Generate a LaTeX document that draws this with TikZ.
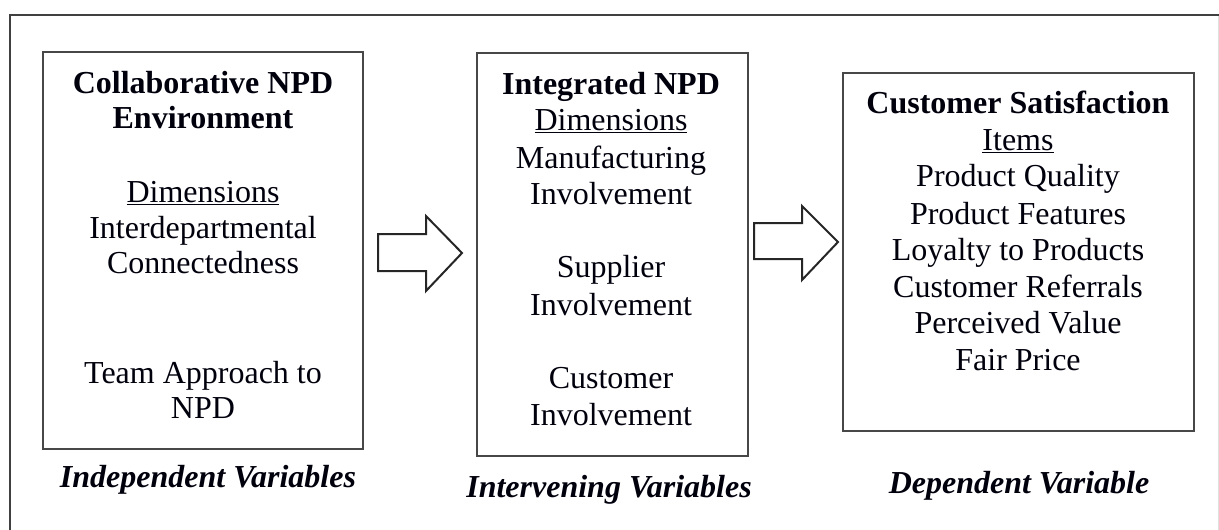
\documentclass[tikz,border=0pt]{standalone}
\usepackage{fontspec}
\setmainfont{Liberation Serif}
\begin{document}
\begin{tikzpicture}[x=1pt,y=-1pt,
  box/.style={draw=black!72, line width=1.8pt, inner sep=0pt},
  txt/.style={anchor=base, inner sep=0pt, text=black!95!blue, font=\fontsize{32}{36}\selectfont},
  bld/.style={txt, font=\fontsize{32}{36}\selectfont\bfseries},
  cpt/.style={txt, font=\fontsize{32}{36}\selectfont\bfseries\itshape},
  blockarrow/.style={draw=black!85, line width=2pt, line join=miter, fill=white}]
\useasboundingbox (0,0) rectangle (1219,530);
% outer frame
\draw[line width=2pt, black!75] (10,530) -- (10,15) -- (1219,15);
\draw[line width=1pt, black!12] (1218,16) -- (1218,530);
% boxes
\node[box, minimum width=320pt, minimum height=397pt] (b1) at (203,250.5) {};
\node[box, minimum width=271pt, minimum height=403pt] (b2) at (612.5,254.5) {};
\node[box, minimum width=351pt, minimum height=358pt] (b3) at (1018.5,252) {};
% block arrows
\draw[blockarrow] (378,234) -- (426,234) -- (426,216) -- (462,253) -- (426,291) -- (426,271) -- (378,271) -- cycle;
\draw[blockarrow] (754,223) -- (802,223) -- (802,206) -- (838,242) -- (802,280) -- (802,259) -- (754,259) -- cycle;
% box 1 text
\node[bld] (t11) at (203,93) {Collaborative NPD};
\node[bld] (t12) at (203,128) {Environment};
\node[txt] (t13) at (203,202) {\underline{Dimensions}};
\node[txt] (t14) at (203,238) {Interdepartmental};
\node[txt] (t15) at (203,273) {Connectedness};
\node[txt] (t16) at (203,383) {Team Approach to};
\node[txt] (t17) at (203,418) {NPD};
\node[cpt] (c1) at (208,487) {Independent Variables};
% box 2 text
\node[bld] (t21) at (611,94) {Integrated NPD};
\node[txt] (t22) at (611,130) {\underline{Dimensions}};
\node[txt] (t23) at (611,168) {Manufacturing};
\node[txt] (t24) at (611,204) {Involvement};
\node[txt] (t25) at (611,277) {Supplier};
\node[txt] (t26) at (611,315) {Involvement};
\node[txt] (t27) at (611,388) {Customer};
\node[txt] (t28) at (611,425) {Involvement};
\node[cpt] (c2) at (609,497) {Intervening Variables};
% box 3 text
\node[bld] (t31) at (1018,113) {Customer Satisfaction};
\node[txt] (t32) at (1018,150) {\underline{Items}};
\node[txt] (t33) at (1018,186) {Product Quality};
\node[txt] (t34) at (1018,224) {Product Features};
\node[txt] (t35) at (1018,260) {Loyalty to Products};
\node[txt] (t36) at (1018,297) {Customer Referrals};
\node[txt] (t37) at (1018,333) {Perceived Value};
\node[txt] (t38) at (1018,370) {Fair Price};
\node[cpt] (c3) at (1019,493) {Dependent Variable};
\end{tikzpicture}
\end{document}
